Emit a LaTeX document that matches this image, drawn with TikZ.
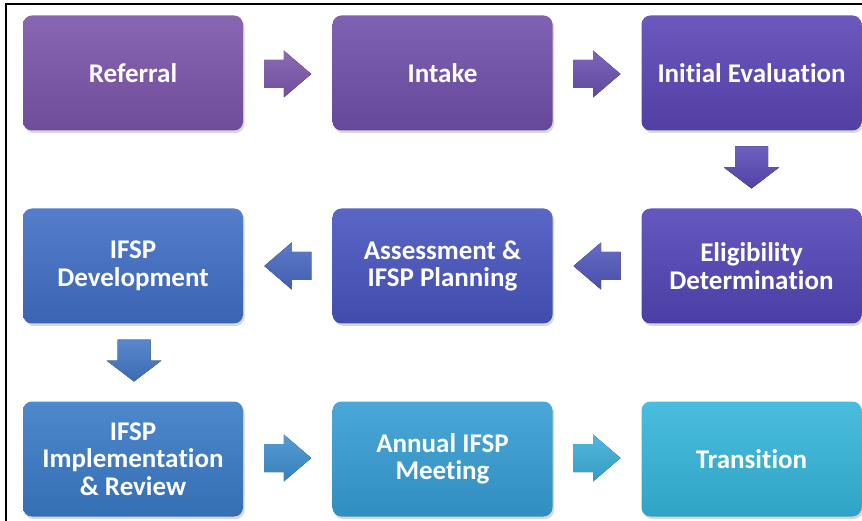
\documentclass[tikz,border=0pt]{standalone}
\usepackage{fontspec}
\setmainfont{Carlito}[Ligatures=NoCommon]
\usetikzlibrary{calc,shadows}
\newcommand{\nolig}{\kern0pt }
\definecolor{cA}{HTML}{7C55AA}
\definecolor{cB}{HTML}{7150AC}
\definecolor{cC}{HTML}{5C46B5}
\definecolor{cD}{HTML}{5345B7}
\definecolor{cE}{HTML}{4855BF}
\definecolor{cF}{HTML}{416FC6}
\definecolor{cG}{HTML}{3A7AC7}
\definecolor{cH}{HTML}{369ED4}
\definecolor{cI}{HTML}{36B6DB}
\definecolor{aA}{HTML}{7B57AC}
\definecolor{aB}{HTML}{6A50B0}
\definecolor{aC}{HTML}{5A4AB8}
\definecolor{aD}{HTML}{4F58BE}
\definecolor{aE}{HTML}{4868C3}
\definecolor{aF}{HTML}{4277C6}
\definecolor{aG}{HTML}{3D8FCD}
\definecolor{aH}{HTML}{3CADD8}
\tikzset{
  stage/.style={rounded corners=9pt, minimum width=220pt, minimum height=115pt,
    inner sep=0pt, align=center, text=white,
    font=\fontsize{27}{27.5}\selectfont\bfseries,
    top color=#1!90!white, bottom color=#1!90!black,
    drop shadow={shadow xshift=1.5pt, shadow yshift=-2.5pt, opacity=0.3}},
  blk/.style={top color=#1!88!white, bottom color=#1!90!black}
}
\newcommand{\rarrow}[2]{%
  \fill[blk=#2] ($(#1)+(-23.5,-14)$) -- ($(#1)+(-4,-14)$) -- ($(#1)+(-4,-23.5)$) -- ($(#1)+(23.5,0)$)
    -- ($(#1)+(-4,23.5)$) -- ($(#1)+(-4,14)$) -- ($(#1)+(-23.5,14)$) -- cycle;}
\newcommand{\larrow}[2]{%
  \fill[blk=#2] ($(#1)+(23.5,-14)$) -- ($(#1)+(4,-14)$) -- ($(#1)+(4,-23.5)$) -- ($(#1)+(-23.5,0)$)
    -- ($(#1)+(4,23.5)$) -- ($(#1)+(4,14)$) -- ($(#1)+(23.5,14)$) -- cycle;}
\newcommand{\darrow}[2]{%
  \fill[blk=#2] ($(#1)+(-16.5,-21)$) -- ($(#1)+(16.5,-21)$) -- ($(#1)+(16.5,0)$) -- ($(#1)+(27.5,0)$)
    -- ($(#1)+(0,21)$) -- ($(#1)+(-27.5,0)$) -- ($(#1)+(-16.5,0)$) -- cycle;}
\begin{document}
\begin{tikzpicture}[x=1pt,y=-1pt]
\useasboundingbox (0,0) rectangle (862,521);
\fill[white] (0,0) rectangle (862,521);
\draw[line width=2pt] (6,521) -- (6,4) -- (863,4);

\node[stage=cA] (ref)  at (133,73)    {Referral};
\node[stage=cB] (int)  at (442.5,73)  {Intake};
\node[stage=cC] (ini)  at (751.5,73)  {Initial Evalua\nolig tion};
\node[stage=cD] (eli)  at (751.5,266) {Eligibility\\Determina\nolig tion};
\node[stage=cE] (ass)  at (442.5,266) {Assessment \&\\IFSP Planning};
\node[stage=cF] (dev)  at (133,266)   {IFSP\\Development};
\node[stage=cG] (imp)  at (133,459)   {IFSP\\Implementa\nolig tion\\\& Review};
\node[stage=cH] (ann)  at (442.5,459) {Annual IFSP\\Meeting};
\node[stage=cI] (tra)  at (751.5,459) {Transi\nolig tion};

\coordinate (m1) at ($(ref.east)!0.5!(int.west)+(0,1)$);
\coordinate (m2) at ($(int.east)!0.5!(ini.west)+(0,1)$);
\coordinate (m3) at ($(ini.south)!0.5!(eli.north)+(0,-2)$);
\coordinate (m4) at ($(eli.west)!0.5!(ass.east)$);
\coordinate (m5) at ($(ass.west)!0.5!(dev.east)$);
\coordinate (m6) at ($(dev.south)!0.5!(imp.north)+(1,-2)$);
\coordinate (m7) at ($(imp.east)!0.5!(ann.west)+(0,-1)$);
\coordinate (m8) at ($(ann.east)!0.5!(tra.west)+(0,-1)$);

\rarrow{m1}{aA}
\rarrow{m2}{aB}
\darrow{m3}{aC}
\larrow{m4}{aD}
\larrow{m5}{aE}
\darrow{m6}{aF}
\rarrow{m7}{aG}
\rarrow{m8}{aH}
\end{tikzpicture}
\end{document}
